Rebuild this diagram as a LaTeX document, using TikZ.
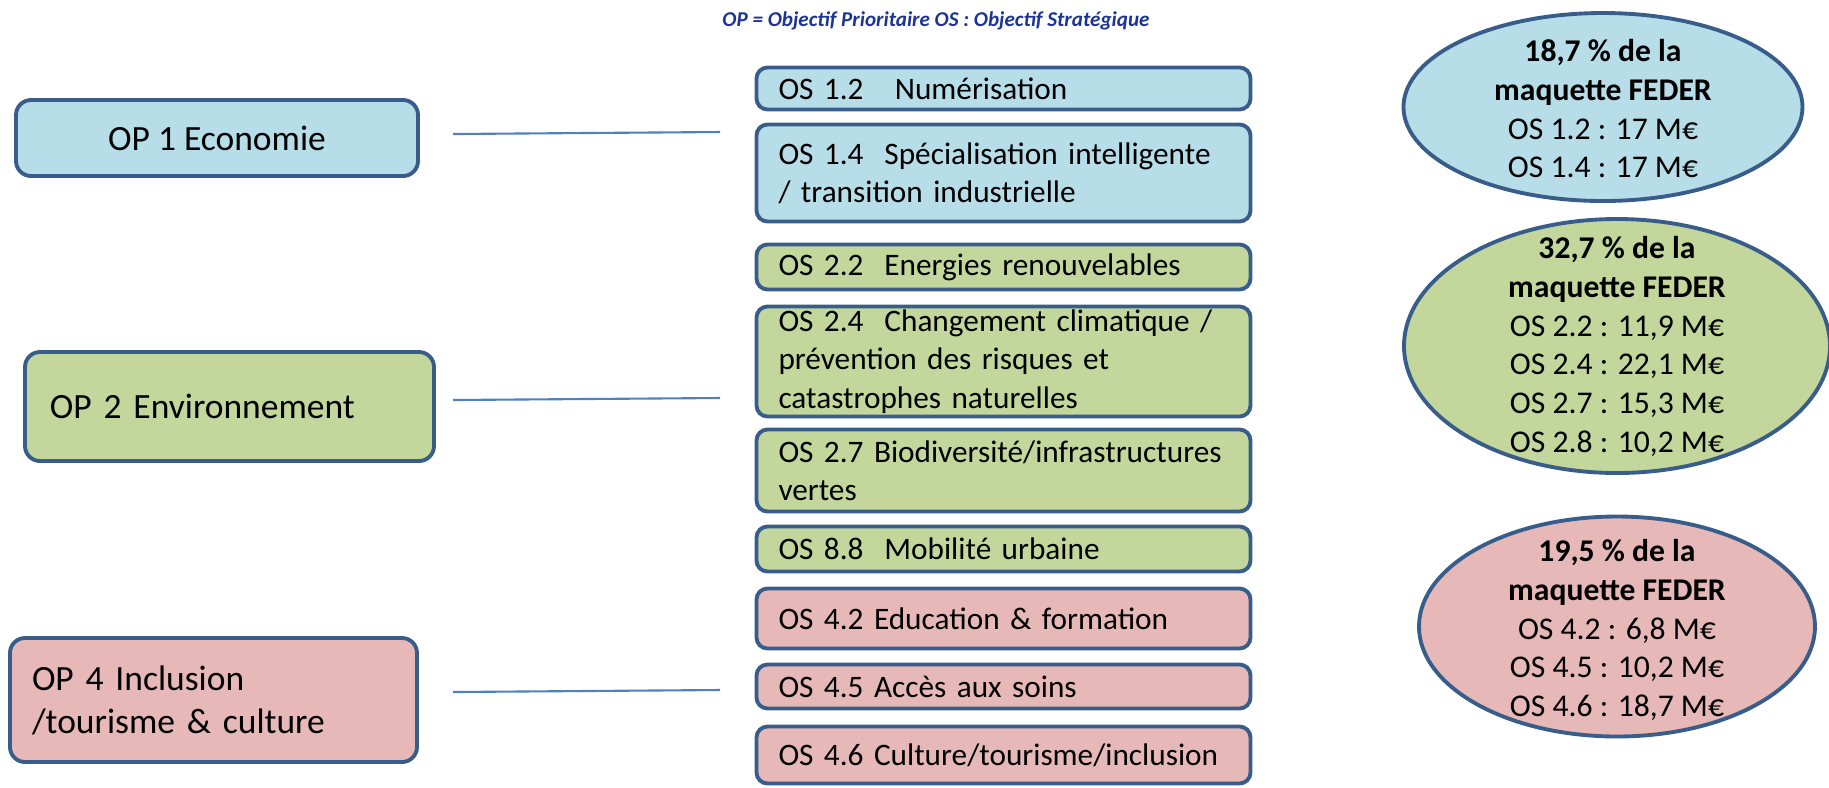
\documentclass[tikz,border=0pt]{standalone}
\usepackage{fontspec}
\setmainfont{Carlito}
\definecolor{edgeblue}{RGB}{56,93,138}
\definecolor{linkblue}{RGB}{79,129,189}
\definecolor{titleblue}{RGB}{28,52,150}
\definecolor{ecoblue}{RGB}{183,221,232}
\definecolor{envgreen}{RGB}{195,214,155}
\definecolor{incpink}{RGB}{230,185,184}
\begin{document}
\begin{tikzpicture}[yscale=-1,
	opbox/.style={draw=edgeblue, line width=1.1pt, rounded corners=0.15cm, inner ysep=0pt, font=\fontsize{10.1}{12.2}\selectfont},
	osbox/.style={draw=edgeblue, line width=1.1pt, rounded corners=0.11cm, minimum width=4.94cm, text width=4.5cm, inner xsep=0.22cm, inner ysep=0pt, align=left, font=\fontsize{8.9}{10.9}\selectfont},
	budget/.style={draw=edgeblue, line width=1.1pt},
	budgettext/.style={align=center, inner sep=0pt, font=\fontsize{9}{11}\selectfont},
	link/.style={draw=linkblue, line width=0.6pt}]
	\useasboundingbox (0,0) rectangle (18.29,7.87);
	\node[font=\fontsize{6}{7}\selectfont\bfseries\itshape, text=titleblue] (title) at (9.36,0.21) {OP = Objectif Prioritaire OS : Objectif Stratégique};
	% objectifs prioritaires
	\node[opbox, fill=ecoblue, minimum width=4.02cm, minimum height=0.76cm] (op1) at (2.17,1.38) {OP 1 Economie};
	\node[opbox, fill=envgreen, minimum width=4.09cm, minimum height=1.09cm, text width=3.59cm, inner xsep=0.25cm, align=left] (op2) at (2.295,4.065) {OP 2 Environnement};
	\node[opbox, fill=incpink, minimum width=4.07cm, minimum height=1.24cm, text width=3.63cm, inner xsep=0.22cm, align=left] (op4) at (2.135,7.00) {OP 4 Inclusion\\/tourisme \& culture};
	% objectifs strategiques
	\node[osbox, fill=ecoblue, minimum height=0.42cm] (os12) at (10.035,0.885) {OS 1.2\ \ \ Numérisation};
	\node[osbox, fill=ecoblue, minimum height=0.97cm] (os14) at (10.035,1.73) {OS 1.4\ \ Spécialisation intelligente\\/ transition industrielle};
	\node[osbox, fill=envgreen, minimum height=0.45cm] (os22) at (10.035,2.67) {OS 2.2\ \ Energies renouvelables};
	\node[osbox, fill=envgreen, minimum height=1.10cm] (os24) at (10.035,3.615) {OS 2.4\ \ Changement climatique /\\prévention des risques et\\catastrophes naturelles};
	\node[osbox, fill=envgreen, minimum height=0.82cm] (os27) at (10.035,4.705) {OS 2.7 Biodiversité/infrastructures\\vertes};
	\node[osbox, fill=envgreen, minimum height=0.45cm] (os88) at (10.035,5.49) {OS 8.8\ \ Mobilité urbaine};
	\node[osbox, fill=incpink, minimum height=0.60cm] (os42) at (10.035,6.185) {OS 4.2 Education \& formation};
	\node[osbox, fill=incpink, minimum height=0.44cm] (os45) at (10.035,6.865) {OS 4.5 Accès aux soins};
	\node[osbox, fill=incpink, minimum height=0.57cm] (os46) at (10.035,7.55) {OS 4.6 Culture/tourisme/inclusion};
	% liens
	\coordinate (op1 out) at (4.53,1.34);
	\coordinate (os1 in) at (7.20,1.32);
	\coordinate (op2 out) at (4.53,4.00);
	\coordinate (os2 in) at (7.20,3.98);
	\coordinate (op4 out) at (4.53,6.92);
	\coordinate (os4 in) at (7.20,6.90);
	\draw[link] (op1 out) -- (os1 in);
	\draw[link] (op2 out) -- (os2 in);
	\draw[link] (op4 out) -- (os4 in);
	% maquette FEDER
	\draw[budget, fill=ecoblue] (16.03,1.07) ellipse (1.995cm and 0.94cm);
	\draw[budget, fill=envgreen] (16.17,3.46) ellipse (2.13cm and 1.27cm);
	\draw[budget, fill=incpink] (16.17,6.265) ellipse (1.98cm and 1.10cm);
	\node[budgettext] (b1) at (16.03,1.09) {\textbf{18,7 \% de la}\\\textbf{maquette FEDER}\\OS 1.2 : 17 M€\\OS 1.4 : 17 M€};
	\node[budgettext] (b2) at (16.17,3.465) {\textbf{32,7 \% de la}\\\textbf{maquette FEDER}\\OS 2.2 : 11,9 M€\\OS 2.4 : 22,1 M€\\OS 2.7 : 15,3 M€\\OS 2.8 : 10,2 M€};
	\node[budgettext] (b3) at (16.17,6.30) {\textbf{19,5 \% de la}\\\textbf{maquette FEDER}\\OS 4.2 : 6,8 M€\\OS 4.5 : 10,2 M€\\OS 4.6 : 18,7 M€};
\end{tikzpicture}
\end{document}
